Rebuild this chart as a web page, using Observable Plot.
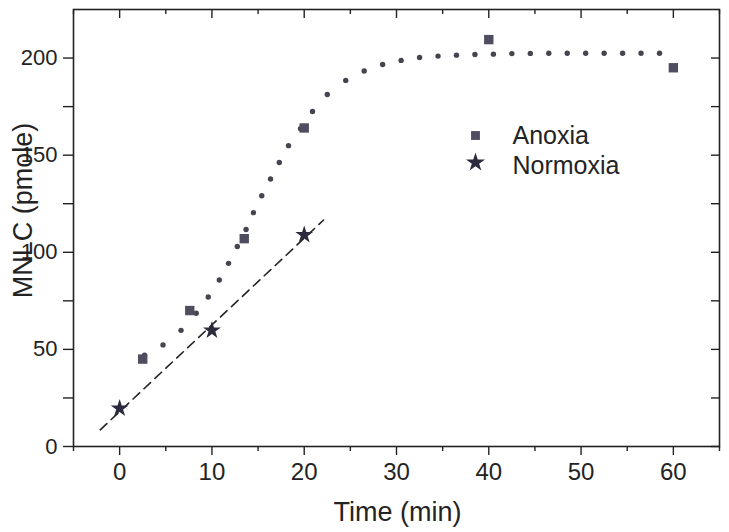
<!DOCTYPE html>
<html>
<head>
<meta charset="utf-8">
<script src="https://cdn.jsdelivr.net/npm/d3@7"></script>
<script src="https://cdn.jsdelivr.net/npm/@observablehq/plot@0.6"></script>
<style>
  html, body { margin: 0; padding: 0; background: #fff; }
  #chart { width: 729px; height: 532px; }
</style>
</head>
<body>
<div id="chart"></div>
<script>
// Series names
const seriesNames = ["Anoxia", "Normoxia"];

// Anoxia measurements (squares)
const anoxiaTime = [2.5, 7.6, 13.5, 20, 40, 60];
const anoxiaMNLC = [45, 70, 107, 164, 209.5, 195];

// Normoxia measurements (stars)
const normoxiaTime = [0, 10, 20];
const normoxiaMNLC = [19.6, 59.8, 109];

// Normoxia linear fit (dashed), endpoints
const normFitTime = [-2.1, 22.1];
const normFitMNLC = [8.6, 116.6];

// Anoxia sigmoid fit (dotted) – positions of the dots
const anoxFitTime = [2.7, 4.7, 6.65, 8.3, 9.6, 10.8, 11.8, 12.75, 13.7, 14.5, 15.4, 16.35, 17.3, 18.3, 19.6, 20.9, 22.5, 24.5, 26.5, 28.5, 30.5, 32.5, 34.5, 36.5, 38.5, 40.5, 42.5, 44.5, 46.5, 48.5, 50.5, 52.5, 54.5, 56.5, 58.5];
const anoxFitMNLC = [47, 52.3, 59.8, 68.6, 77, 85.7, 94.3, 103, 111.7, 120.4, 129.1, 137.7, 146.2, 154.9, 163.6, 172.5, 181.2, 188.5, 193.3, 196.7, 198.8, 200.3, 201, 201.5, 201.8, 202, 202.3, 202.4, 202.5, 202.5, 202.5, 202.5, 202.5, 202.5, 202.5];

// Axis ticks
const xMajor = [0, 10, 20, 30, 40, 50, 60];
const xMinor = [-5, 5, 15, 25, 35, 45, 55, 65];
const yMajor = [0, 50, 100, 150, 200];
const yMinor = [25, 75, 125, 175];
const xDomain = [-5, 65];
const yDomain = [0, 225];
const xTitle = "Time (min)";
const yTitle = "MNLC (pmole)";

const anoxia = anoxiaTime.map((t, i) => ({t, v: anoxiaMNLC[i]}));
const normoxia = normoxiaTime.map((t, i) => ({t, v: normoxiaMNLC[i]}));
const normFit = normFitTime.map((t, i) => ({t, v: normFitMNLC[i]}));
const anoxFit = anoxFitTime.map((t, i) => ({t, v: anoxFitMNLC[i]}));

const ink = "#232323";
const sqColor = "#4e4e60";
const starColor = "#2b2b3d";
const dotColor = "#45454f";
const noText = () => "";

const chart = Plot.plot({
  width: 729,
  height: 532,
  marginLeft: 73,
  marginRight: 10,
  marginTop: 9,
  marginBottom: 86,
  style: {fontFamily: "'Liberation Sans', Arial, sans-serif", background: "#fff", color: ink},
  x: {domain: xDomain},
  y: {domain: yDomain},
  marks: [
    // bottom axis (outward)
    Plot.axisX({ticks: xMajor, tickSize: 9, tickPadding: 7, fontSize: 24, label: null, stroke: ink, strokeWidth: 1.4, fill: ink}),
    Plot.axisX({ticks: xMinor, tickSize: 5, tickFormat: noText, label: null, stroke: ink, strokeWidth: 1.4}),
    // top axis (inward)
    Plot.axisX({anchor: "top", ticks: xMajor, tickSize: 8, dy: 8, tickFormat: noText, label: null, stroke: ink, strokeWidth: 1.4}),
    Plot.axisX({anchor: "top", ticks: xMinor, tickSize: 4, dy: 4, tickFormat: noText, label: null, stroke: ink, strokeWidth: 1.4}),
    // left axis (outward)
    Plot.axisY({ticks: yMajor, tickSize: 10, tickPadding: 6, fontSize: 22, label: null, stroke: ink, strokeWidth: 1.4, fill: ink}),
    Plot.axisY({ticks: yMinor, tickSize: 10, tickFormat: noText, label: null, stroke: ink, strokeWidth: 1.4}),
    // right axis (inward)
    Plot.axisY({anchor: "right", ticks: yMajor.concat(yMinor), tickSize: 9, dx: -9, tickFormat: noText, label: null, stroke: ink, strokeWidth: 1.4}),
    Plot.frame({stroke: ink, strokeWidth: 1.6}),
    // fits
    Plot.line(normFit, {x: "t", y: "v", stroke: ink, strokeWidth: 1.6, strokeDasharray: "9,6"}),
    Plot.dot(anoxFit, {x: "t", y: "v", r: 2.7, fill: dotColor, stroke: "none"}),
    // data
    Plot.dot(anoxia, {x: "t", y: "v", symbol: "square", r: 5.3, fill: sqColor, stroke: "none"}),
    Plot.dot(normoxia, {x: "t", y: "v", symbol: "star", r: 5.6, fill: starColor, stroke: "none"}),
    // legend
    Plot.dot([seriesNames[0]], {frameAnchor: "top-left", dx: 402, dy: 126, symbol: "square", r: 5, fill: sqColor}),
    Plot.dot([seriesNames[1]], {frameAnchor: "top-left", dx: 402, dy: 153, symbol: "star", r: 6, fill: starColor}),
    Plot.text([seriesNames[0]], {frameAnchor: "top-left", dx: 439, dy: 126.3, text: d => d, textAnchor: "start", lineAnchor: "middle", fontSize: 25, fill: ink}),
    Plot.text([seriesNames[1]], {frameAnchor: "top-left", dx: 439, dy: 156.3, text: d => d, textAnchor: "start", lineAnchor: "middle", fontSize: 25, fill: ink}),
    // axis titles
    Plot.text([xTitle], {frameAnchor: "bottom", dx: 1, dy: 65.4, text: d => d, fontSize: 27, fill: ink, textAnchor: "middle", lineAnchor: "middle"}),
    Plot.text([yTitle], {frameAnchor: "left", dx: -50, dy: -17.5, rotate: -90, text: d => d, fontSize: 27, fill: ink, textAnchor: "middle", lineAnchor: "middle"})
  ]
});
document.getElementById("chart").appendChild(chart);
</script>
</body>
</html>
